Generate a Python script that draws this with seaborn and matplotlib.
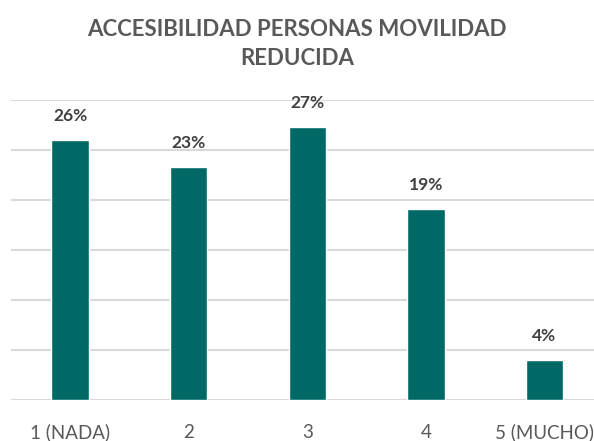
import matplotlib
matplotlib.use("Agg")
import matplotlib.pyplot as plt
import seaborn as sns
import pandas as pd

# Survey answers on accessibility for people with reduced mobility
categories = ["1 (NADA)", "2", "3", "4", "5 (MUCHO)"]
shares = [0.26, 0.233, 0.273, 0.191, 0.04]
title = "ACCESIBILIDAD PERSONAS MOVILIDAD\nREDUCIDA"

bar_color = "#006966"
grid_color = "#D9D9D9"
text_dark = "#404040"
text_mid = "#595959"

sns.set_theme(style="white")
plt.rcParams["font.family"] = ["Lato", "DejaVu Sans"]

df = pd.DataFrame({"categoria": categories, "porcentaje": shares})

fig = plt.figure(figsize=(5.94, 4.41), dpi=100)
ax = fig.add_axes([10.75 / 594, 41 / 441, 593 / 594, 300 / 441])

sns.barplot(data=df, x="categoria", y="porcentaje", color=bar_color,
            width=0.316, saturation=1, ax=ax, zorder=3)

ax.set_xlim(-0.5, 4.5)
ax.set_ylim(0, 0.30)
ax.set_yticks([0, 0.05, 0.10, 0.15, 0.20, 0.25, 0.30])
ax.yaxis.grid(True, color=grid_color, linewidth=1.5, zorder=0)
ax.tick_params(axis="y", left=False, labelleft=False)
ax.tick_params(axis="x", bottom=False, labelsize=13.5, labelcolor=text_mid, pad=11)
for s in ax.spines.values():
    s.set_visible(False)
ax.set_xlabel("")
ax.set_ylabel("")

for i, v in enumerate(shares):
    ax.annotate(f"{v:.0%}", (i, v), xytext=(0, 16), textcoords="offset pixels",
                ha="center", va="bottom", fontsize=12.5, fontweight="bold",
                color=text_dark)

fig.text(0.5, 1 - 44 / 441, title, ha="center", va="center", fontsize=16,
         fontweight="bold", color=text_mid, linespacing=1.45)

fig.savefig("out.png", dpi=100)
